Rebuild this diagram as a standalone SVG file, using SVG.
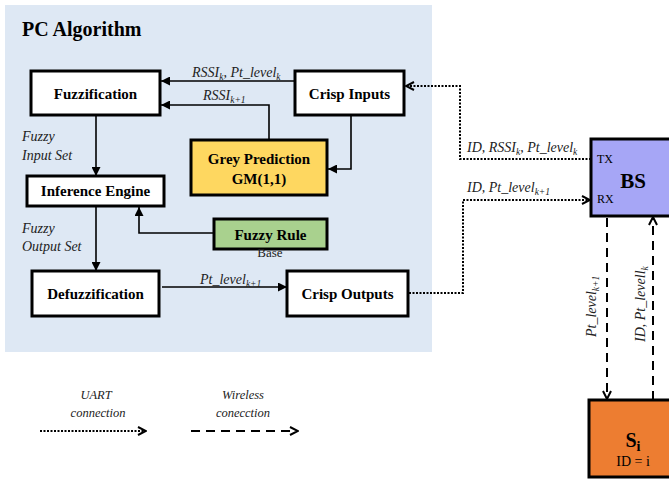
<svg xmlns="http://www.w3.org/2000/svg" width="669" height="481" viewBox="0 0 669 481">
  <defs>
    <style>
      .t { font-family: "Liberation Serif", "Times New Roman", Times, serif; fill: #000; }
      .box { stroke: #000; stroke-width: 3; }
      .lbl { font-family: "Liberation Serif", "Times New Roman", Times, serif; font-size: 15px; font-weight: bold; text-anchor: middle; }
      .it { font-family: "Liberation Serif", "Times New Roman", Times, serif; font-size: 14px; font-style: italic; fill: #222; }
      .sub { font-size: 9.5px; }
      .solid { fill: none; stroke: #000; stroke-width: 1.6; }
      .uart { fill: none; stroke: #000; stroke-width: 2; stroke-dasharray: 2 1.5; }
      .wl { fill: none; stroke: #000; stroke-width: 2; stroke-dasharray: 9 6; }
    </style>
    <marker id="tri" viewBox="0 0 10 10" refX="10" refY="5" markerWidth="9" markerHeight="9" markerUnits="userSpaceOnUse" orient="auto">
      <path d="M0,0 L10,5 L0,10 z" fill="#000"/>
    </marker>
    <marker id="chev" viewBox="0 0 10 10" refX="9" refY="5" markerWidth="10" markerHeight="10" markerUnits="userSpaceOnUse" orient="auto">
      <path d="M1,1 L9,5 L1,9" fill="none" stroke="#000" stroke-width="2"/>
    </marker>
  </defs>

  <!-- algorithm panel -->
  <rect x="5" y="5" width="427" height="347" fill="#DEE8F4"/>
  <text class="t" x="22" y="36" font-size="20" font-weight="bold">PC Algorithm</text>

  <g id="fuzzification">
    <rect class="box" x="31" y="71" width="129" height="44" fill="#fff"/>
    <text class="lbl" x="95.5" y="99">Fuzzification</text>
  </g>
  <g id="crisp-inputs">
    <rect class="box" x="295" y="71" width="109" height="44" fill="#fff"/>
    <text class="lbl" x="349.5" y="99">Crisp Inputs</text>
  </g>
  <g id="grey-prediction">
    <rect class="box" x="191" y="140" width="136" height="55" fill="#FED760"/>
    <text class="lbl" x="259" y="164">Grey Prediction</text>
    <text class="lbl" x="259" y="184">GM(1,1)</text>
  </g>
  <g id="inference-engine">
    <rect class="box" x="27" y="176" width="137" height="30" fill="#fff"/>
    <text class="lbl" x="95.5" y="196">Inference Engine</text>
  </g>
  <g id="fuzzy-rule-base">
    <rect class="box" x="214" y="219" width="113" height="30" fill="#A9D18E"/>
    <text class="lbl" x="270.5" y="240">Fuzzy Rule</text>
    <text class="t" x="270" y="257" style="font-size:13px;text-anchor:middle;fill:#222">Base</text>
  </g>
  <g id="defuzzification">
    <rect class="box" x="32" y="271" width="127" height="45" fill="#fff"/>
    <text class="lbl" x="95.5" y="299">Defuzzification</text>
  </g>
  <g id="crisp-outputs">
    <rect class="box" x="287" y="271" width="121" height="45" fill="#fff"/>
    <text class="lbl" x="347.5" y="299">Crisp Outputs</text>
  </g>
  <g id="bs">
    <rect class="box" x="591" y="139" width="82" height="77" fill="#A6A6F6"/>
    <text class="t" x="633" y="188" style="font-size:21px;font-weight:bold;text-anchor:middle">BS</text>
    <text class="t" x="597" y="163" style="font-size:12px">TX</text>
    <text class="t" x="597" y="203" style="font-size:12px">RX</text>
  </g>
  <g id="sensor-node">
    <rect class="box" x="589" y="400" width="84" height="77" fill="#ED7D31"/>
    <text class="t" x="633" y="447" style="font-size:20px;font-weight:bold;text-anchor:middle">S<tspan style="font-size:14px" dy="4">i</tspan></text>
    <text class="t" x="633" y="466" style="font-size:14px;text-anchor:middle">ID = i</text>
  </g>

  <!-- labels on the left of the vertical flow -->
  <text class="it" x="22" y="141">Fuzzy</text>
  <text class="it" x="22" y="160">Input Set</text>
  <text class="it" x="22" y="233">Fuzzy</text>
  <text class="it" x="22" y="251">Output Set</text>

  <g id="connectors">
    <!-- solid data flow inside the algorithm -->
    <path class="solid" d="M295,81 H161" marker-end="url(#tri)"/>
    <path class="solid" d="M269,140 V105 H161" marker-end="url(#tri)"/>
    <path class="solid" d="M351,115 V169 H328" marker-end="url(#tri)"/>
    <path class="solid" d="M96,115 V176" marker-end="url(#tri)"/>
    <path class="solid" d="M96,206 V271" marker-end="url(#tri)"/>
    <path class="solid" d="M214,233 H139 V207" marker-end="url(#tri)"/>
    <path class="solid" d="M162,287 H287" marker-end="url(#tri)"/>

    <!-- UART links -->
    <path class="uart" d="M591,159 H460 V86 H406" marker-end="url(#chev)"/>
    <path class="uart" d="M409,293 H463 V200 H590" marker-end="url(#chev)"/>

    <!-- wireless links -->
    <path class="wl" d="M607,218 V399" marker-end="url(#chev)"/>
    <path class="wl" d="M653,400 V217" marker-end="url(#chev)"/>

    <!-- connector labels -->
    <text class="it" x="192" y="77">RSSI<tspan class="sub" dy="3">k</tspan><tspan dy="-3">, Pt_level</tspan><tspan class="sub" dy="3">k</tspan></text>
    <text class="it" x="203" y="100">RSSI<tspan class="sub" dy="3">k+1</tspan></text>
    <text class="it" x="200" y="284">Pt_level<tspan class="sub" dy="3">k+1</tspan></text>
    <text class="it" x="467" y="152">ID, RSSI<tspan class="sub" dy="3">k</tspan><tspan dy="-3">, Pt_level</tspan><tspan class="sub" dy="3">k</tspan></text>
    <text class="it" x="467" y="192">ID, Pt_level<tspan class="sub" dy="3">k+1</tspan></text>
    <text class="it" transform="translate(596,337) rotate(-90)">Pt_level<tspan class="sub" dy="3">k+1</tspan></text>
    <text class="it" transform="translate(645,342) rotate(-90)">ID, Pt_levell<tspan class="sub" dy="3">k</tspan></text>
  </g>

  <!-- legend -->
  <g id="legend">
    <text class="it" x="96" y="399" style="font-size:12.5px;text-anchor:middle">UART</text>
    <text class="it" x="98" y="417" style="font-size:12.5px;text-anchor:middle">connection</text>
    <path class="uart" d="M40,431 H146" marker-end="url(#chev)"/>
    <text class="it" x="243" y="399" style="font-size:12.5px;text-anchor:middle">Wireless</text>
    <text class="it" x="243" y="417" style="font-size:12.5px;text-anchor:middle">conecction</text>
    <path class="wl" d="M191,431 H298" marker-end="url(#chev)"/>
  </g>
</svg>
